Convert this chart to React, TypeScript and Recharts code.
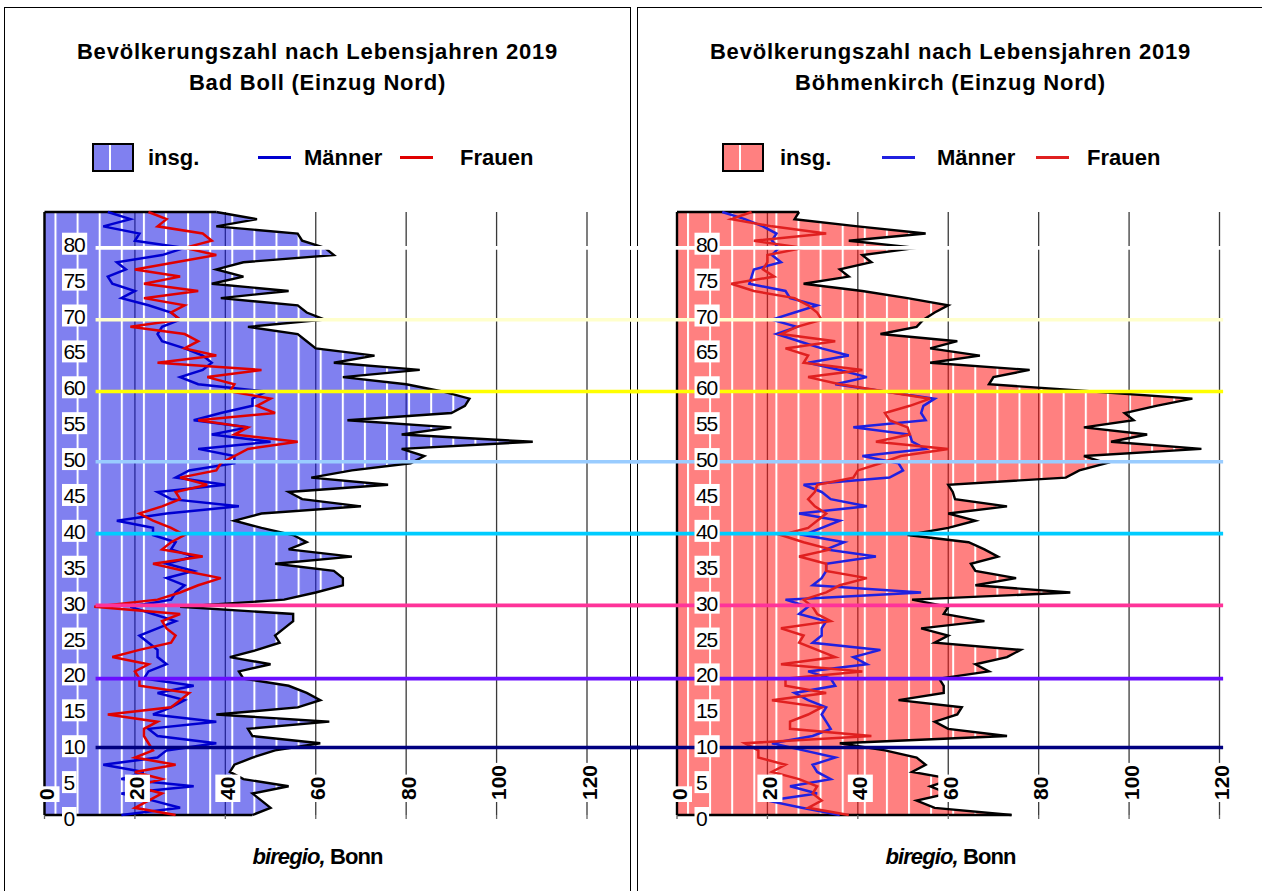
import React from "react";
import {
  Area,
  CartesianGrid,
  ComposedChart,
  Line,
  ReferenceLine,
  XAxis,
  YAxis,
} from "recharts";

// Lebensjahre 0..84 (Kategorien der Altersachse)
const AGES = [
  0, 1, 2, 3, 4, 5, 6, 7, 8, 9, 10, 11, 12, 13, 14, 15, 16, 17, 18, 19, 20, 21,
  22, 23, 24, 25, 26, 27, 28, 29, 30, 31, 32, 33, 34, 35, 36, 37, 38, 39, 40,
  41, 42, 43, 44, 45, 46, 47, 48, 49, 50, 51, 52, 53, 54, 55, 56, 57, 58, 59,
  60, 61, 62, 63, 64, 65, 66, 67, 68, 69, 70, 71, 72, 73, 74, 75, 76, 77, 78,
  79, 80, 81, 82, 83, 84,
];

// Bad Boll (Einzug Nord)
const BOLL_TOTAL = [
  46, 50, 48, 46, 54, 44, 41, 42, 46, 51, 61, 46, 45, 63, 38, 56, 61, 58, 54, 44,
  43, 50, 41, 47, 52, 51, 53, 55, 55, 30, 53, 60, 66, 66, 64, 51, 68, 54, 58, 55,
  48, 42, 48, 70, 57, 54, 76, 59, 68, 81, 84, 79, 108, 79, 90, 67, 90, 93, 94, 88,
  80, 66, 83, 64, 73, 60, 58, 56, 45, 62, 58, 56, 39, 54, 37, 44, 38, 44, 64, 62,
  57, 56, 38, 47, 38,
];
const BOLL_MEN = [
  17, 30, 24, 17, 33, 17, 22, 13, 25, 27, 38, 25, 23, 38, 24, 28, 31, 25, 33, 22,
  23, 27, 25, 25, 23, 21, 25, 29, 24, 19, 28, 29, 31, 27, 33, 27, 33, 28, 29, 24,
  24, 16, 27, 43, 28, 25, 40, 29, 32, 42, 42, 34, 50, 37, 45, 33, 39, 46, 46, 49,
  34, 30, 35, 37, 35, 31, 26, 25, 26, 30, 28, 23, 17, 20, 15, 14, 18, 16, 26, 31,
  20, 21, 13, 19, 14,
];
const BOLL_WOMEN = [
  29, 20, 23, 26, 20, 26, 20, 29, 20, 24, 23, 22, 22, 25, 14, 28, 30, 32, 21, 21,
  20, 23, 15, 21, 28, 29, 27, 26, 30, 11, 25, 30, 34, 39, 31, 24, 35, 26, 28, 31,
  28, 24, 21, 26, 30, 29, 36, 30, 38, 39, 42, 45, 56, 42, 45, 34, 51, 47, 50, 41,
  42, 36, 48, 25, 38, 31, 34, 31, 19, 30, 28, 31, 22, 34, 22, 30, 20, 29, 38, 31,
  37, 35, 25, 27, 23,
];

// Böhmenkirch (Einzug Nord)
const BOEH_TOTAL = [
  74, 57, 53, 60, 56, 61, 52, 55, 53, 46, 36, 73, 60, 57, 62, 63, 49, 59, 59, 58,
  69, 66, 73, 76, 57, 60, 54, 68, 59, 60, 52, 87, 66, 75, 66, 65, 71, 68, 64.5, 51,
  60, 66, 60, 73, 61.5, 61, 60, 86, 89, 95, 90, 116, 96, 104, 90, 101, 99, 106, 114,
  92, 69, 70, 78, 56, 67, 56, 62, 45, 53, 54.5, 57, 60, 51, 41, 28, 38, 36, 43, 41,
  53, 38, 55, 40, 26, 27,
];
const BOEH_MEN = [
  36, 27.6, 20, 31, 25, 34, 31, 30, 35, 28, 21, 30, 34, 33, 32, 33, 29, 26, 35, 34,
  29, 42, 39, 45, 30, 32, 32, 33, 27, 29, 24, 54, 30, 32, 33, 33, 44, 33, 37, 28,
  32, 36, 27, 42, 34, 32, 28, 47, 50, 49, 41, 55, 52, 51.5, 39, 55, 54, 54.5, 57, 46,
  35, 42, 36, 29, 38, 32, 27, 22, 26.5, 21, 26, 31, 25, 24, 16, 16.5, 17, 23, 21,
  22.5, 21, 22, 19, 15, 10,
];
const BOEH_WOMEN = [
  38, 29, 32, 30, 31, 27, 21, 24, 18, 18, 15, 43, 25, 25, 29, 32, 21, 33, 24, 24,
  41, 23, 35, 31, 27, 28, 23, 34, 31, 30, 28, 33, 36, 42, 33, 33, 27, 34, 28, 23,
  29, 31, 33, 30.5, 29, 30.5, 31, 39, 40, 45, 49.5, 60, 44, 51.5, 51, 47, 46, 51.5,
  56, 46, 36, 29, 41, 28, 29, 24, 35, 23, 26.5, 32, 31, 29, 26, 17, 12, 21.5, 19,
  20, 20, 28, 17, 33, 21, 12, 16.5,
];

const AGE_TICKS = [0, 5, 10, 15, 20, 25, 30, 35, 40, 45, 50, 55, 60, 65, 70, 75, 80];
const COUNT_TICKS = [0, 20, 40, 60, 80, 100, 120];
// Farbige Markierungslinien (Dekaden), wie im Original über beide Grafiken gezogen
const MARK_AGES = [9.4, 19, 29.2, 39.2, 49.2, 59, 69, 79];
const MARK_COLORS = [
  "#000080",
  "#6a0dff",
  "#ff3399",
  "#00ccff",
  "#99ccff",
  "#ffff00",
  "#ffffcc",
  "#ffffff",
];

const FONT = '"Liberation Sans", Arial, sans-serif';
const PLOT_TOP = 212;
const PLOT_BOTTOM = 815;
const PLOT_W = 542.5;
const CHART_W = 630;
const CHART_H = 891;
const X_AXIS_H = 20;
const Y_AXIS_W = 2;

const rowsOf = (total: number[], men: number[], women: number[]) =>
  AGES.map((age, i) => ({ age, total: total[i], men: men[i], women: women[i] }));

const AgeTick = (props: any) => {
  const { y, payload, plotLeft } = props;
  const label = String(payload.value);
  const w = label.length * 10.6 + 4;
  return (
    <g>
      <rect x={plotLeft + 17.5} y={y - 8} width={w} height={22} fill="#fff" />
      <text
        x={plotLeft + 19}
        y={y + 3.5}
        dominantBaseline="central"
        textAnchor="start"
        fontFamily={FONT}
        fontSize={21}
        letterSpacing={-1.3}
        fill="#000"
      >
        {label}
      </text>
    </g>
  );
};

const CountTick = (props: any) => {
  const { x, payload } = props;
  const label = String(payload.value);
  const len = label.length * 11.7;
  const cx = x + 2;
  const base = PLOT_BOTTOM - 15;
  return (
    <g>
      <rect x={cx - 12} y={base - len - 2} width={25} height={len + 4} fill="#fff" />
      <text
        transform={`translate(${cx},${base}) rotate(-90)`}
        textAnchor="start"
        dominantBaseline="central"
        fontFamily={FONT}
        fontWeight="bold"
        fontSize={21}
        fill="#000"
      >
        {label}
      </text>
    </g>
  );
};

type PanelProps = {
  left: number;
  plotLeft: number;
  total: number[];
  men: number[];
  women: number[];
  patternId: string;
  menColor: string;
  womenColor: string;
  markFrom: number;
  markTo: number;
};

function PyramidChart(p: PanelProps) {
  const rows = rowsOf(p.total, p.men, p.women);
  return (
    <div style={{ position: "absolute", left: p.left, top: 0 }}>
      <ComposedChart
        layout="vertical"
        width={CHART_W}
        height={CHART_H}
        data={rows}
        margin={{
          top: PLOT_TOP,
          bottom: CHART_H - PLOT_BOTTOM - X_AXIS_H,
          left: p.plotLeft - Y_AXIS_W,
          right: CHART_W - p.plotLeft - PLOT_W,
        }}
      >
        <CartesianGrid horizontal={false} stroke="#3a3a3a" strokeWidth={1.3} />
        <XAxis
          type="number"
          domain={[0, 120]}
          ticks={COUNT_TICKS}
          interval={0}
          height={X_AXIS_H}
          axisLine={false}
          tickLine={{ stroke: "#666", strokeWidth: 1.3 }}
          tickSize={4}
          tick={<CountTick />}
        />
        <YAxis
          type="number"
          dataKey="age"
          domain={[0, 84]}
          ticks={AGE_TICKS}
          interval={0}
          reversed
          width={Y_AXIS_W}
          axisLine={{ stroke: "#000", strokeWidth: 2.4 }}
          tickLine={false}
          tick={<AgeTick plotLeft={p.plotLeft} />}
        />
        <Area
          type="linear"
          dataKey="total"
          stroke="#000"
          strokeWidth={2.4}
          fill={`url(#${p.patternId})`}
          fillOpacity={0.55}
          isAnimationActive={false}
        />
        <ReferenceLine
          segment={[
            { x: 0, y: AGES[0] },
            { x: p.total[0], y: AGES[0] },
          ]}
          stroke="#000"
          strokeWidth={2.4}
        />
        <ReferenceLine
          segment={[
            { x: 0, y: AGES[AGES.length - 1] },
            { x: p.total[p.total.length - 1], y: AGES[AGES.length - 1] },
          ]}
          stroke="#000"
          strokeWidth={2.4}
        />
        <Line
          type="linear"
          dataKey="men"
          stroke={p.menColor}
          strokeWidth={2.5}
          dot={false}
          isAnimationActive={false}
        />
        <Line
          type="linear"
          dataKey="women"
          stroke={p.womenColor}
          strokeWidth={2.5}
          dot={false}
          isAnimationActive={false}
        />
        {MARK_AGES.map((a, i) => (
          <ReferenceLine
            key={a}
            segment={[
              { x: p.markFrom, y: a },
              { x: p.markTo, y: a },
            ]}
            stroke={MARK_COLORS[i]}
            strokeWidth={3.6}
            ifOverflow="visible"
            zIndex={700}
          />
        ))}
      </ComposedChart>
    </div>
  );
}

type FrameProps = {
  frameLeft: number;
  place: string;
  swatchFill: string;
  menColor: string;
  womenColor: string;
  legend: number[]; // swatch, insg., blue line, Männer, red line, Frauen
};

function Frame(f: FrameProps) {
  const text: React.CSSProperties = {
    position: "absolute",
    top: 145,
    fontFamily: FONT,
    fontWeight: "bold",
    fontSize: 22,
    lineHeight: "25px",
    color: "#000",
    whiteSpace: "nowrap",
  };
  const line = (x: number, c: string): React.CSSProperties => ({
    position: "absolute",
    left: x,
    top: 156,
    width: 33,
    height: 2.5,
    background: c,
  });
  return (
    <>
      <div
        style={{
          position: "absolute",
          left: f.frameLeft,
          top: 7,
          width: 627,
          height: 900,
          border: "1.5px solid #000",
          boxSizing: "border-box",
        }}
      />
      <div
        style={{
          position: "absolute",
          left: f.frameLeft,
          top: 36,
          width: 627,
          textAlign: "center",
          fontFamily: FONT,
          fontWeight: "bold",
          fontSize: 22,
          lineHeight: "31px",
          letterSpacing: 0.8,
        }}
      >
        Bevölkerungszahl nach Lebensjahren 2019
        <br />
        {f.place}
      </div>
      <div
        style={{
          position: "absolute",
          left: f.legend[0],
          top: 143,
          width: 42,
          height: 29,
          background: f.swatchFill,
          border: "2.5px solid #000",
          boxSizing: "border-box",
        }}
      >
        <div
          style={{ position: "absolute", left: 15, top: 0, width: 2, height: "100%", background: "#fff" }}
        />
      </div>
      <div style={{ ...text, left: f.legend[1] }}>insg.</div>
      <div style={line(f.legend[2], f.menColor)} />
      <div style={{ ...text, left: f.legend[3] }}>Männer</div>
      <div style={line(f.legend[4], f.womenColor)} />
      <div style={{ ...text, left: f.legend[5] }}>Frauen</div>
      <div
        style={{
          position: "absolute",
          left: f.frameLeft,
          top: 844,
          width: 627,
          textAlign: "center",
          fontFamily: FONT,
          fontWeight: "bold",
          fontSize: 22,
          letterSpacing: -0.9,
        }}
      >
        <i>biregio,</i> Bonn
      </div>
    </>
  );
}

export default function App() {
  return (
    <div
      style={{
        position: "absolute",
        left: 0,
        top: 0,
        width: 1262,
        height: 891,
        overflow: "hidden",
        background: "#fff",
      }}
    >
      <style>{`svg.recharts-surface{overflow:visible}`}</style>
      <svg width={0} height={0} style={{ position: "absolute" }}>
        <defs>
          <pattern id="fillBoll" patternUnits="userSpaceOnUse" x={54.5} y={0} width={22.1} height={20}>
            <rect width={22.1} height={20} fill="#1818e4" />
            <rect x={0} width={2} height={20} fill="#fff" />
          </pattern>
          <pattern id="fillBoeh" patternUnits="userSpaceOnUse" x={55} y={0} width={22.1} height={20}>
            <rect width={22.1} height={20} fill="#ff1818" />
            <rect x={0} width={2} height={20} fill="#fff" />
          </pattern>
        </defs>
      </svg>

      <Frame
        frameLeft={4}
        place="Bad Boll (Einzug Nord)"
        swatchFill="#8080f0"
        menColor="#0000d0"
        womenColor="#e00000"
        legend={[92, 148, 258, 304, 400, 460]}
      />
      <Frame
        frameLeft={637}
        place="Böhmenkirch (Einzug Nord)"
        swatchFill="#ff8080"
        menColor="#2020e0"
        womenColor="#e02020"
        legend={[722, 780, 882, 937, 1036, 1087]}
      />

      <PyramidChart
        left={0}
        plotLeft={44.5}
        total={BOLL_TOTAL}
        men={BOLL_MEN}
        women={BOLL_WOMEN}
        patternId="fillBoll"
        menColor="#0000d0"
        womenColor="#e00000"
        markFrom={11.3}
        markTo={131.7}
      />
      <PyramidChart
        left={632}
        plotLeft={45}
        total={BOEH_TOTAL}
        men={BOEH_MEN}
        women={BOEH_WOMEN}
        patternId="fillBoeh"
        menColor="#2020e0"
        womenColor="#e02020"
        markFrom={-10.4}
        markTo={120.8}
      />
    </div>
  );
}
